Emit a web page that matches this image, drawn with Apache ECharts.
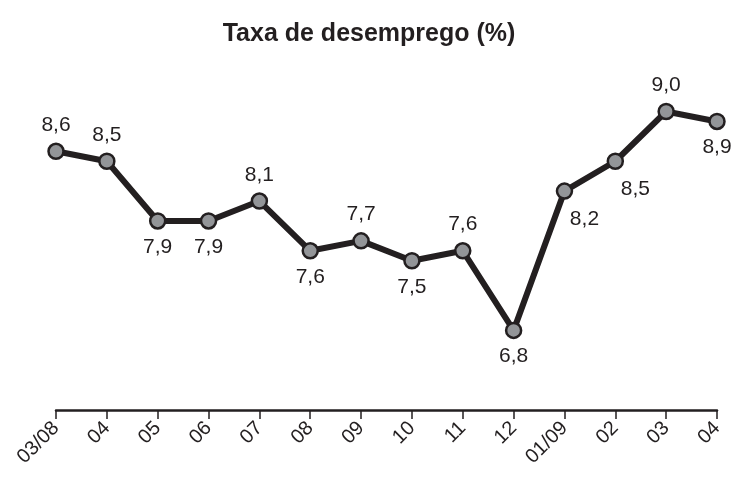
<!DOCTYPE html>
<html>
<head>
<meta charset="utf-8">
<script src="https://cdn.jsdelivr.net/npm/echarts@6/dist/echarts.min.js"></script>
<style>
  html, body { margin: 0; padding: 0; background: #fff; }
  #chart { width: 738px; height: 477px; }
</style>
</head>
<body>
<div id="chart"></div>
<script>
// meses (03/2008 a 04/2009)
const months = ['03/08', '04', '05', '06', '07', '08', '09', '10', '11', '12', '01/09', '02', '03', '04'];
// taxa de desemprego (%)
const rates = [8.6, 8.5, 7.9, 7.9, 8.1, 7.6, 7.7, 7.5, 7.6, 6.8, 8.2, 8.5, 9.0, 8.9];
// posição do rótulo de cada ponto
const labelSide = ['top', 'top', 'bottom', 'bottom', 'top', 'bottom', 'top', 'bottom', 'top', 'bottom', 'right', 'right', 'top', 'bottom'];

const ink = '#231f20';

const chart = echarts.init(document.getElementById('chart'));

const seriesData = rates.map((v, i) => {
  const side = labelSide[i];
  const item = { value: v, label: { position: side === 'right' ? 'bottom' : side } };
  if (side === 'right') {
    item.label.offset = [20, 2];
  }
  return item;
});

const option = {
  animation: false,
  title: {
    text: 'Taxa de desemprego (%)',
    left: 'center',
    top: 17,
    textStyle: {
      fontFamily: 'Liberation Sans, Arial, sans-serif',
      fontSize: 25,
      fontWeight: 'bold',
      color: ink
    }
  },
  grid: {
    left: 56,
    right: 21,
    top: 12,
    bottom: 67
  },
  xAxis: {
    type: 'category',
    boundaryGap: false,
    data: months,
    axisLine: { lineStyle: { color: ink, width: 2.5 } },
    axisTick: { length: 9, lineStyle: { color: ink, width: 1.5 } },
    axisLabel: {
      rotate: 45,
      margin: 15,
      interval: 0,
      fontFamily: 'Liberation Sans, Arial, sans-serif',
      fontSize: 20,
      color: ink
    }
  },
  yAxis: {
    type: 'value',
    min: 6,
    max: 10,
    show: false
  },
  series: [{
    type: 'line',
    data: seriesData,
    symbol: 'circle',
    symbolSize: 15,
    lineStyle: { color: ink, width: 6 },
    itemStyle: { color: '#939598', borderColor: ink, borderWidth: 2.5 },
    label: {
      show: true,
      distance: 7,
      fontFamily: 'Liberation Sans, Arial, sans-serif',
      fontSize: 21,
      color: ink,
      formatter: p => p.value.toFixed(1).replace('.', ',')
    },
    z: 3
  }]
};

chart.setOption(option);
</script>
</body>
</html>
